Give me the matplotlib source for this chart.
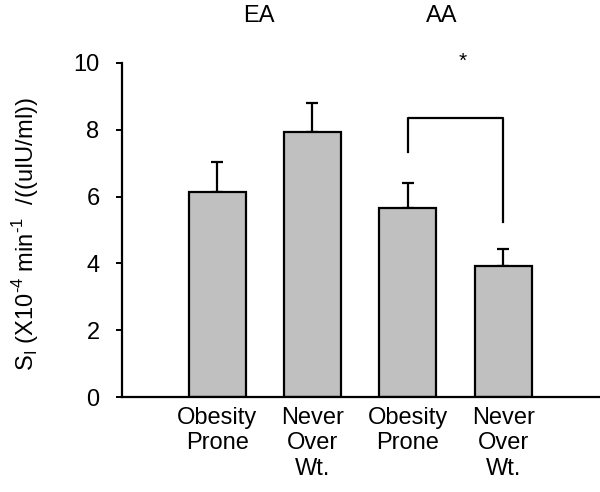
import numpy as np
import matplotlib
matplotlib.use('Agg')
import matplotlib.pyplot as plt

plt.rcParams['font.family'] = ['Liberation Sans', 'DejaVu Sans']
plt.rcParams['mathtext.fontset'] = 'custom'
plt.rcParams['mathtext.rm'] = 'Liberation Sans'
plt.rcParams['axes.unicode_minus'] = False

groups = ['Obesity\nProne', 'Never\nOver\nWt.', 'Obesity\nProne', 'Never\nOver\nWt.']
si_mean = [6.14, 7.93, 5.66, 3.92]
si_sem = [0.90, 0.87, 0.74, 0.51]
ethnic = ['EA', 'AA']
ethnic_x = [0.44, 2.36]
# significance bracket between the two AA bars
sig_pair = [2, 3]
sig_top = 8.35
sig_legs = [7.33, 5.24]
sig_mark = '*'

fig = plt.figure(figsize=(6.0, 4.92), dpi=100)
# axes runs a little past the right edge so the baseline reaches it
ax = fig.add_axes([0.203, 0.193, 0.847, 0.679])

x = np.arange(len(groups))
ax.bar(x, si_mean, width=0.6, color='#c0c0c0', edgecolor='black',
       linewidth=1.6, zorder=2)
ax.errorbar(x, si_mean, yerr=[np.zeros(len(si_sem)), si_sem], fmt='none',
            ecolor='black', elinewidth=1.6, capsize=4, capthick=1.6, zorder=1)

# bracket
ax.plot([sig_pair[0], sig_pair[0], sig_pair[1], sig_pair[1]],
        [sig_legs[0], sig_top, sig_top, sig_legs[1]],
        color='black', linewidth=1.6, clip_on=False)
ax.text(2.57, 10.05, sig_mark, ha='center', va='center', fontsize=15,
        clip_on=False)

for name, ex in zip(ethnic, ethnic_x):
    ax.text(ex, 11.23, name, ha='center', va='baseline', fontsize=17,
            clip_on=False)

ax.set_xlim(-1.0, 4.33)
ax.set_ylim(0, 10)
ax.set_yticks([0, 2, 4, 6, 8, 10])
ax.set_xticks(x)
ax.set_xticklabels(groups, fontsize=17, linespacing=1.2)
ax.tick_params(axis='x', length=0, pad=7)
ax.tick_params(axis='y', length=4, width=1.4, pad=12, labelsize=17)

for side in ['top', 'right']:
    ax.spines[side].set_visible(False)
for side in ['left', 'bottom']:
    ax.spines[side].set_linewidth(1.6)

fig.text(0.042, 0.524,
         r'S$_\mathregular{I}$ (X10$^{\text{-4}}$ min$^{\text{-1}}$  /((uIU/ml))',
         rotation=90, ha='center', va='center', fontsize=17)

fig.savefig('out.png', dpi=100)
